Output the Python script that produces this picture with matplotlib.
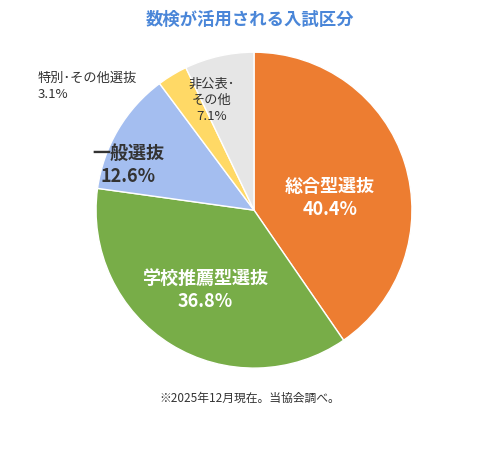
import matplotlib
matplotlib.use("Agg")
import matplotlib.pyplot as plt

plt.rcParams['font.family'] = ['Noto Sans CJK JP', 'DejaVu Sans']

categories = ["総合型選抜", "学校推薦型選抜", "一般選抜", "特別・その他選抜", "非公表・その他"]
values = [40.4, 36.8, 12.6, 3.1, 7.1]
colors = ["#ED7D31", "#78AD48", "#A4BEF0", "#FFD966", "#E6E6E6"]

fig = plt.figure(figsize=(5, 4.5), dpi=100)
ax = fig.add_axes([0.508 - 0.316, 0.533 - 0.351, 0.632, 0.702])
ax.pie(values, colors=colors, startangle=90, counterclock=False,
       wedgeprops=dict(edgecolor="white", linewidth=1))
ax.set_xlim(-1.0, 1.0)
ax.set_ylim(-1.0, 1.0)
ax.set_aspect('equal')

def px(x, y):
    return x / 500, 1 - y / 450

fig.text(*px(250, 20), "数検が活用される入試区分", ha='center', va='center',
         fontsize=12.5, fontweight='bold', color="#4A86D8")
fig.text(*px(330, 198), f"{categories[0]}\n{values[0]}%", ha='center', va='center',
         fontsize=13, fontweight='bold', color='white', linespacing=1.3)
fig.text(*px(205, 290), f"{categories[1]}\n{values[1]}%", ha='center', va='center',
         fontsize=13, fontweight='bold', color='white', linespacing=1.3)
fig.text(*px(128, 165), f"{categories[2]}\n{values[2]}%", ha='center', va='center',
         fontsize=13, fontweight='bold', color='#333333', linespacing=1.3)
fig.text(*px(38, 86), f"特別･その他選抜\n{values[3]}%", ha='left', va='center',
         fontsize=9.5, color='#333333', linespacing=1.3)
fig.text(*px(212, 100), f"非公表･\nその他\n{values[4]}%", ha='center', va='center',
         fontsize=9.5, color='#333333', linespacing=1.3)
fig.text(*px(250, 398), "※2025年12月現在。当協会調べ。", ha='center', va='center',
         fontsize=8.5, color='#333333')

fig.savefig("out.png", dpi=100, facecolor='white')
